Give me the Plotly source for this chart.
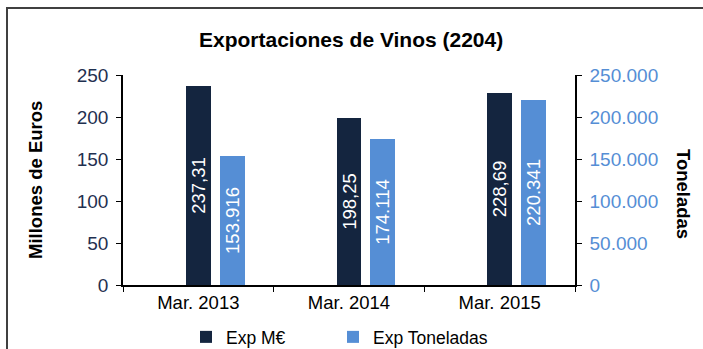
import plotly.graph_objects as go

# Exportaciones de vinos (partida 2204), marzo de cada año
periodos = ["Mar. 2013", "Mar. 2014", "Mar. 2015"]
exp_millones_eur = [237.31, 198.25, 228.69]
exp_toneladas = [153916, 174114, 220341]

tick_vals_eur = [0, 50, 100, 150, 200, 250]
tick_vals_ton = [0, 50000, 100000, 150000, 200000, 250000]

AZUL_OSCURO = "#14253F"
AZUL_CLARO = "#558ED5"
FUENTE = "Liberation Sans, Arial, sans-serif"

W, H = 703, 349
L, R, T, B = 123, 128, 75, 64
pw, ph = W - L - R, H - T - B


def px_x(px):
    return (px - L) / pw


def px_y(py):
    return (H - B - py) / ph


ancho_barra = 0.165

fig = go.Figure()
fig.add_trace(go.Bar(
    x=periodos, y=exp_millones_eur, name="Exp M€", yaxis="y", legend="legend",
    marker=dict(color=AZUL_OSCURO, line=dict(width=0)),
    width=ancho_barra, offset=-ancho_barra / 2,
    texttemplate="%{y:,.2f}", textposition="inside", insidetextanchor="middle",
    constraintext="none",
    textangle=-90, textfont=dict(color="white", size=18.5, family=FUENTE),
))
fig.add_trace(go.Bar(
    x=periodos, y=exp_toneladas, name="Exp Toneladas", yaxis="y2", legend="legend2",
    marker=dict(color=AZUL_CLARO, line=dict(width=0)),
    width=ancho_barra, offset=ancho_barra / 2 + 0.06,
    texttemplate="%{y:,d}", textposition="inside", insidetextanchor="middle",
    constraintext="none",
    textangle=-90, textfont=dict(color="white", size=18.5, family=FUENTE),
))

eje = dict(showgrid=False, zeroline=False, showline=True, linecolor="black",
           linewidth=1.5, ticks="outside", ticklen=5, tickcolor="black")

leyenda = dict(orientation="h", xanchor="left", y=px_y(337), yanchor="middle",
               font=dict(size=17.5), itemwidth=30, bgcolor="rgba(0,0,0,0)")

fig.update_layout(
    width=W, height=H,
    margin=dict(l=L, r=R, t=T, b=B, autoexpand=False),
    paper_bgcolor="white", plot_bgcolor="white",
    separators=",.",
    font=dict(family=FUENTE, size=18, color="black"),
    showlegend=True,
    legend=dict(**leyenda, x=px_x(186)),
    legend2=dict(**leyenda, x=px_x(333)),
    xaxis=dict(**eje, type="category", tickson="boundaries",
               tickfont=dict(size=18.5, color="black"), range=[-0.5, 2.5]),
    yaxis=dict(**eje, range=[0, 250], tickvals=tick_vals_eur, ticklabelstandoff=4,
               tickfont=dict(size=19, color="#1F3050")),
    yaxis2=dict(**eje, range=[0, 250000], tickvals=tick_vals_ton, tickformat=",d",
                overlaying="y", side="right", ticklabelstandoff=4,
                tickfont=dict(size=19, color=AZUL_CLARO)),
    bargap=0,
)

fig.add_annotation(text="<b>Exportaciones de Vinos (2204)</b>", xref="paper", yref="paper",
                   x=px_x(351), y=px_y(40), showarrow=False,
                   font=dict(size=21, color="black"), xanchor="center", yanchor="middle")

fig.add_annotation(text="<b>Millones de Euros</b>", xref="paper", yref="paper",
                   x=px_x(35), y=0.5, showarrow=False, textangle=-90,
                   font=dict(size=18.5, color="black"), xanchor="center", yanchor="middle")

fig.add_annotation(text="<b>Toneladas</b>", xref="paper", yref="paper",
                   x=px_x(684), y=px_y(194), showarrow=False, textangle=90,
                   font=dict(size=18.5, color="black"), xanchor="center", yanchor="middle")

# marco exterior del gráfico
fig.add_shape(type="rect", xref="paper", yref="paper",
              x0=px_x(7), x1=px_x(W + 20), y0=px_y(H + 20), y1=px_y(8),
              line=dict(color="#404040", width=2), fillcolor="rgba(0,0,0,0)", layer="below")

fig.write_html("out.html")
